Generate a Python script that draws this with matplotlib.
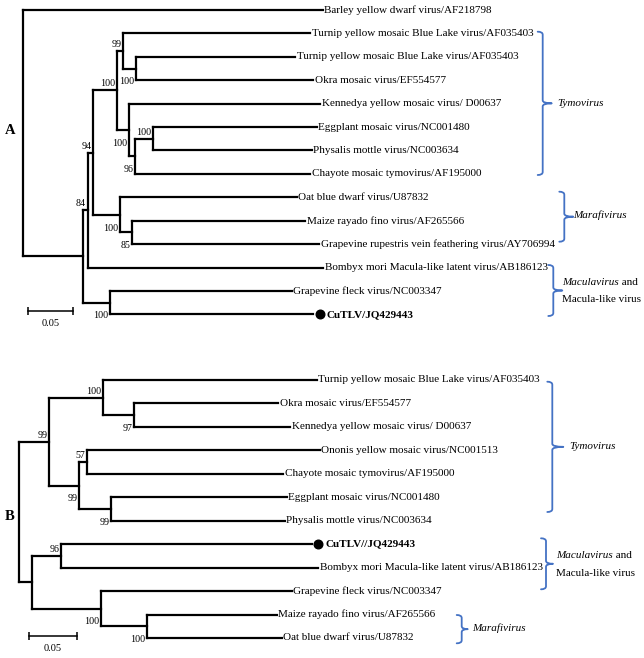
import matplotlib
matplotlib.use('Agg')
import matplotlib.pyplot as plt
from matplotlib.path import Path
from matplotlib.patches import PathPatch
from matplotlib.transforms import offset_copy

plt.rcParams['font.family'] = ['Liberation Serif', 'DejaVu Serif']

# ---------------- Panel A tree (branch lengths in substitutions/site) ----------------
A_node = ['root', 'barley', 'n1', 'n2', 'n3', 'tymo', 't1', 'tymv1', 't2', 'tymv2', 'okra',
          't3', 'kenn', 't4', 't5', 'egg', 'phys', 'chay', 'mara', 'oat', 'm2', 'maize',
          'grvfv', 'bomb', 'n4', 'gfkv', 'cutlv']
A_parent = [None, 'root', 'root', 'n1', 'n2', 'n3', 'tymo', 't1', 't1', 't2', 't2',
            'tymo', 't3', 't3', 't4', 't5', 't5', 't4', 'n3', 'mara', 'mara', 'm2',
            'm2', 'n2', 'n1', 'n4', 'n4']
A_length = [0.0, 0.3333, 0.0667, 0.0056, 0.0062, 0.0260, 0.0074, 0.2074, 0.0138, 0.1770, 0.1973,
            0.0140, 0.2119, 0.0064, 0.0203, 0.1816, 0.1760, 0.1944, 0.0297, 0.1963, 0.0130, 0.1929,
            0.2085, 0.2618, 0.0303, 0.2019, 0.2256]
A_label = {
    'barley': 'Barley yellow dwarf virus/AF218798',
    'tymv1': 'Turnip yellow mosaic Blue Lake virus/AF035403',
    'tymv2': 'Turnip yellow mosaic Blue Lake virus/AF035403',
    'okra': 'Okra mosaic virus/EF554577',
    'kenn': 'Kennedya yellow mosaic virus/ D00637',
    'egg': 'Eggplant mosaic virus/NC001480',
    'phys': 'Physalis mottle virus/NC003634',
    'chay': 'Chayote mosaic tymovirus/AF195000',
    'oat': 'Oat blue dwarf virus/U87832',
    'maize': 'Maize rayado fino virus/AF265566',
    'grvfv': 'Grapevine rupestris vein feathering virus/AY706994',
    'bomb': 'Bombyx mori Macula-like latent virus/AB186123',
    'gfkv': 'Grapevine fleck virus/NC003347',
    'cutlv': 'CuTLV/JQ429443',
}
A_support = {'n2': 84, 'n3': 94, 'tymo': 100, 't1': 99, 't2': 100, 't3': 100, 't4': 96,
             't5': 100, 'mara': 100, 'm2': 85, 'n4': 100}
A_support_above = ['n2', 'n3', 'tymo', 't1', 't5']

# ---------------- Panel B tree ----------------
B_node = ['root', 'b1', 'b2', 'tymv', 'b3', 'okra', 'kenn', 'b4', 'b5', 'ononis', 'chay',
          'b6', 'egg', 'phys', 'b7', 'b8', 'cutlv', 'bomb', 'b9', 'gfkv', 'b10', 'maize', 'oat']
B_parent = [None, 'root', 'b1', 'b2', 'b2', 'b3', 'b3', 'b1', 'b4', 'b5', 'b5',
            'b4', 'b6', 'b6', 'root', 'b7', 'b8', 'b8', 'b7', 'b9', 'b9', 'b10', 'b10']
B_length = [0.0, 0.0318, 0.0566, 0.2237, 0.0325, 0.1509, 0.1632, 0.0314, 0.0084, 0.2439, 0.2054,
            0.0332, 0.1842, 0.1824, 0.0133, 0.0307, 0.2628, 0.2697, 0.0723, 0.2002, 0.0483, 0.1362,
            0.1415]
B_label = {
    'tymv': 'Turnip yellow mosaic Blue Lake virus/AF035403',
    'okra': 'Okra mosaic virus/EF554577',
    'kenn': 'Kennedya yellow mosaic virus/ D00637',
    'ononis': 'Ononis yellow mosaic virus/NC001513',
    'chay': 'Chayote mosaic tymovirus/AF195000',
    'egg': 'Eggplant mosaic virus/NC001480',
    'phys': 'Physalis mottle virus/NC003634',
    'cutlv': 'CuTLV//JQ429443',
    'bomb': 'Bombyx mori Macula-like latent virus/AB186123',
    'gfkv': 'Grapevine fleck virus/NC003347',
    'maize': 'Maize rayado fino virus/AF265566',
    'oat': 'Oat blue dwarf virus/U87832',
}
B_support = {'b1': 99, 'b2': 100, 'b3': 97, 'b4': 99, 'b5': 57, 'b6': 99, 'b8': 96,
             'b9': 100, 'b10': 100}
B_support_above = ['b1', 'b2', 'b5', 'b8']

SCALE_VALUE = 0.05
HIGHLIGHT = 'cutlv'

# ---------------- layout ----------------
W, H, DPI = 644, 658, 100
BRACE_COLOR = '#4472C4'
LEAF_FS = 8
SUP_FS = 7.2
LW = 1.6

fig = plt.figure(figsize=(W / DPI, H / DPI), dpi=DPI)
fig.patch.set_facecolor('white')


def layout(nodes, parents, lengths):
    children = {n: [] for n in nodes}
    depth = {}
    for n, p, L in zip(nodes, parents, lengths):
        if p is None:
            depth[n] = 0.0
        else:
            children[p].append(n)
            depth[n] = depth[p] + L
    ypos = {}
    counter = [0]

    def walk(n):
        if not children[n]:
            ypos[n] = counter[0]
            counter[0] += 1
        else:
            for c in children[n]:
                walk(c)
            ypos[n] = 0.5 * (ypos[children[n][0]] + ypos[children[n][-1]])
    walk(nodes[0])
    return children, depth, ypos


def draw_tree(ax, nodes, parents, lengths, labels, support, above,
              root_px, px_per_unit, y0_px, dy_px, scalebar_px):
    ax.set_xlim((0 - root_px) / px_per_unit, (W - root_px) / px_per_unit)
    ax.set_ylim((H - y0_px) / dy_px, (0 - y0_px) / dy_px)
    ax.axis('off')
    children, depth, ypos = layout(nodes, parents, lengths)
    kw = dict(color='black', lw=LW, solid_capstyle='projecting')
    for n, p in zip(nodes, parents):
        if children[n]:
            ax.plot([depth[n], depth[n]],
                    [ypos[children[n][0]], ypos[children[n][-1]]], **kw)
        if p is not None:
            ax.plot([depth[p], depth[n]], [ypos[n], ypos[n]], **kw)
        if n in labels:
            if n == HIGHLIGHT:
                tr = offset_copy(ax.transData, fig=fig, x=6.5, y=0, units='dots')
                ax.plot([depth[n]], [ypos[n]], marker='o', ms=6.2, color='black',
                        transform=tr)
                ax.annotate(labels[n], xy=(depth[n], ypos[n]), xytext=(13.5, 0),
                            textcoords='offset pixels', va='center', ha='left',
                            fontsize=LEAF_FS, fontweight='bold')
            else:
                ax.annotate(labels[n], xy=(depth[n], ypos[n]), xytext=(1.5, 0),
                            textcoords='offset pixels', va='center', ha='left',
                            fontsize=LEAF_FS)
        if n in support:
            dy = 6.5 if n in above else -13.3
            ax.annotate(str(support[n]), xy=(depth[n], ypos[n]), xytext=(-1.7, dy),
                        textcoords='offset pixels', va='center', ha='right',
                        fontsize=SUP_FS)
    # scale bar
    sx = (scalebar_px[0] - root_px) / px_per_unit
    sy = (scalebar_px[1] - y0_px) / dy_px
    ax.plot([sx, sx + SCALE_VALUE], [sy, sy], color='black', lw=1.1,
            marker='|', ms=6, mew=1.1)
    ax.annotate(f'{SCALE_VALUE:.2f}', xy=(sx + SCALE_VALUE / 2, sy), xytext=(0, -12.6),
                textcoords='offset pixels', ha='center', va='center', fontsize=7.5)


axA = fig.add_axes([0, 0, 1, 1])
axA.patch.set_alpha(0)
draw_tree(axA, A_node, A_parent, A_length, A_label, A_support, A_support_above,
          root_px=22.7, px_per_unit=900, y0_px=10, dy_px=23.41, scalebar_px=(27.7, 310.7))

axB = fig.add_axes([0, 0, 1, 1])
axB.patch.set_alpha(0)
draw_tree(axB, B_node, B_parent, B_length, B_label, B_support, B_support_above,
          root_px=19, px_per_unit=954, y0_px=380, dy_px=23.45, scalebar_px=(29, 636))

# ---------------- overlay: braces, group names, panel letters (pixel coords) ----------------
ov = fig.add_axes([0, 0, 1, 1])
ov.set_xlim(0, W)
ov.set_ylim(H, 0)
ov.axis('off')


def brace(xv, yt, yb, hook=5.0, tip=9.0, r=3.0):
    ym = 0.5 * (yt + yb)
    verts = [(xv - hook, yt), (xv, yt), (xv, yt + r),
             (xv, ym - r), (xv, ym), (xv + tip, ym),
             (xv, ym), (xv, ym + r),
             (xv, yb - r), (xv, yb), (xv - hook, yb)]
    codes = [Path.MOVETO, Path.CURVE3, Path.CURVE3,
             Path.LINETO, Path.CURVE3, Path.CURVE3,
             Path.CURVE3, Path.CURVE3,
             Path.LINETO, Path.CURVE3, Path.CURVE3]
    ov.add_patch(PathPatch(Path(verts, codes), fill=False, edgecolor=BRACE_COLOR,
                           lw=1.3, capstyle='round', joinstyle='round'))
    return ym


def macula_label(x, y1, y2):
    t = ov.text(x, y1, 'Maculavirus', style='italic', fontsize=LEAF_FS, va='center', ha='left')
    ov.annotate(' and', xy=(1, 0), xycoords=t, va='bottom', ha='left', fontsize=LEAF_FS)
    ov.text(x, y2, 'Macula-like virus', fontsize=LEAF_FS, va='center', ha='left')


# Panel A
ym = brace(542.7, 31.7, 175.0)
ov.text(557.0, ym, 'Tymovirus', style='italic', fontsize=LEAF_FS, va='center', ha='left')
ym = brace(564.3, 191.7, 241.7)
ov.text(572.7, ym - 2, 'Marafivirus', style='italic', fontsize=LEAF_FS, va='center', ha='left')
brace(553.3, 265.0, 316.0)
macula_label(562.3, 282.7, 299.3)

# Panel B
ym = brace(552.3, 381.7, 512.0, tip=11)
ov.text(569.3, ym, 'Tymovirus', style='italic', fontsize=LEAF_FS, va='center', ha='left')
brace(546.0, 538.3, 589.3, tip=7)
macula_label(556.0, 556.0, 573.3)
ym = brace(461.7, 615.0, 643.3, tip=6)
ov.text(471.7, ym - 1, 'Marafivirus', style='italic', fontsize=LEAF_FS, va='center', ha='left')

ov.text(10, 130, 'A', fontsize=10.5, fontweight='bold', ha='center', va='center')
ov.text(10, 516.7, 'B', fontsize=10.5, fontweight='bold', ha='center', va='center')

fig.savefig('out.png', dpi=DPI, facecolor='white')
